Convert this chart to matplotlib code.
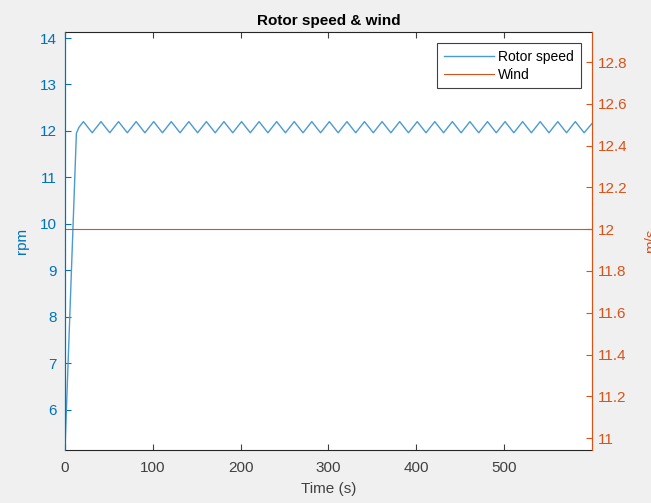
import matplotlib
matplotlib.use("Agg")
import matplotlib.pyplot as plt

# rotor speed trace (s, rpm)
rotor_t = [0, 13, 16, 21, 31, 41, 51, 61, 71, 81, 91, 101, 111, 121, 131,
           141, 151, 161, 171, 181, 191, 201, 211, 221, 231, 241, 251, 261,
           271, 281, 291, 301, 311, 321, 331, 341, 351, 361, 371, 381, 391,
           401, 411, 421, 431, 441, 451, 461, 471, 481, 491, 501, 511, 521,
           531, 541, 551, 561, 571, 581, 591, 600]
rotor_rpm = [5.14, 11.95, 12.08, 12.2, 11.96, 12.2, 11.96, 12.2, 11.96, 12.2,
             11.96, 12.2, 11.96, 12.2, 11.96, 12.2, 11.96, 12.2, 11.96, 12.2,
             11.96, 12.2, 11.96, 12.2, 11.96, 12.2, 11.96, 12.2, 11.96, 12.2,
             11.96, 12.2, 11.96, 12.2, 11.96, 12.2, 11.96, 12.2, 11.96, 12.2,
             11.96, 12.2, 11.96, 12.2, 11.96, 12.2, 11.96, 12.2, 11.96, 12.2,
             11.96, 12.2, 11.96, 12.2, 11.96, 12.2, 11.96, 12.2, 11.96, 12.2,
             11.96, 12.16]

wind_t = [0, 600]
wind_ms = [12, 12]

left_ticks = [6, 7, 8, 9, 10, 11, 12, 13, 14]
right_ticks = [11, 11.2, 11.4, 11.6, 11.8, 12, 12.2, 12.4, 12.6, 12.8]
right_labels = ["11", "11.2", "11.4", "11.6", "11.8", "12", "12.2", "12.4", "12.6", "12.8"]
x_ticks = [0, 100, 200, 300, 400, 500]

BLUE = "#0072BD"
BLUE_LINE = "#4A9AD4"
ORANGE = "#D95319"
GRAY = "#262626"

plt.rcParams["font.family"] = ["Liberation Sans", "DejaVu Sans"]
plt.rcParams["font.size"] = 11

fig = plt.figure(figsize=(6.51, 5.03), dpi=100, facecolor="#F0F0F0")
ax = fig.add_axes([0.0998, 0.1054, 0.8096, 0.831])
ax2 = ax.twinx()

l1, = ax.plot(rotor_t, rotor_rpm, color=BLUE_LINE, lw=1.0, label="Rotor speed")
l2, = ax2.plot(wind_t, wind_ms, color=ORANGE, lw=0.8, label="Wind")

ax.set_xlim(0, 600)
ax.set_ylim(5.13, 14.13)
ax2.set_ylim(10.943, 12.944)

ax.set_xticks(x_ticks)
ax.set_yticks(left_ticks)
ax2.set_yticks(right_ticks)
ax2.set_yticklabels(right_labels)

ax.tick_params(axis="x", direction="in", top=True, colors="#404040", labelsize=11, length=4, pad=8)
ax.tick_params(axis="y", direction="in", colors=BLUE, labelcolor=BLUE, labelsize=11, length=4, pad=6)
ax2.tick_params(axis="y", direction="in", colors=ORANGE, labelcolor=ORANGE, labelsize=11, length=4, pad=4)

for s in ["top", "bottom"]:
    ax.spines[s].set_color(GRAY)
    ax.spines[s].set_linewidth(0.8)
ax2.spines["top"].set_visible(False)
ax2.spines["bottom"].set_visible(False)
ax2.spines["left"].set_color(BLUE)
ax2.spines["right"].set_color(ORANGE)
ax.spines["left"].set_color(BLUE)
ax.spines["right"].set_color(ORANGE)

ax.set_xlabel("Time (s)", color="#404040", fontsize=11, labelpad=5)
ax.set_ylabel("rpm", color=BLUE, fontsize=11, labelpad=8)
ax2.set_ylabel("m/s", color=ORANGE, fontsize=11, labelpad=12)
ax.set_title("Rotor speed & wind", fontweight="bold", fontsize=11, pad=5)

leg = ax2.legend([l1, l2], ["Rotor speed", "Wind"], loc="upper right",
                 fancybox=False, framealpha=1, edgecolor="#404040",
                 handlelength=3.6, fontsize=10, borderpad=0.5,
                 labelspacing=0.25, handletextpad=0.3, borderaxespad=0.8)
leg.get_frame().set_linewidth(0.8)

fig.savefig("out.png", dpi=100, facecolor=fig.get_facecolor())
